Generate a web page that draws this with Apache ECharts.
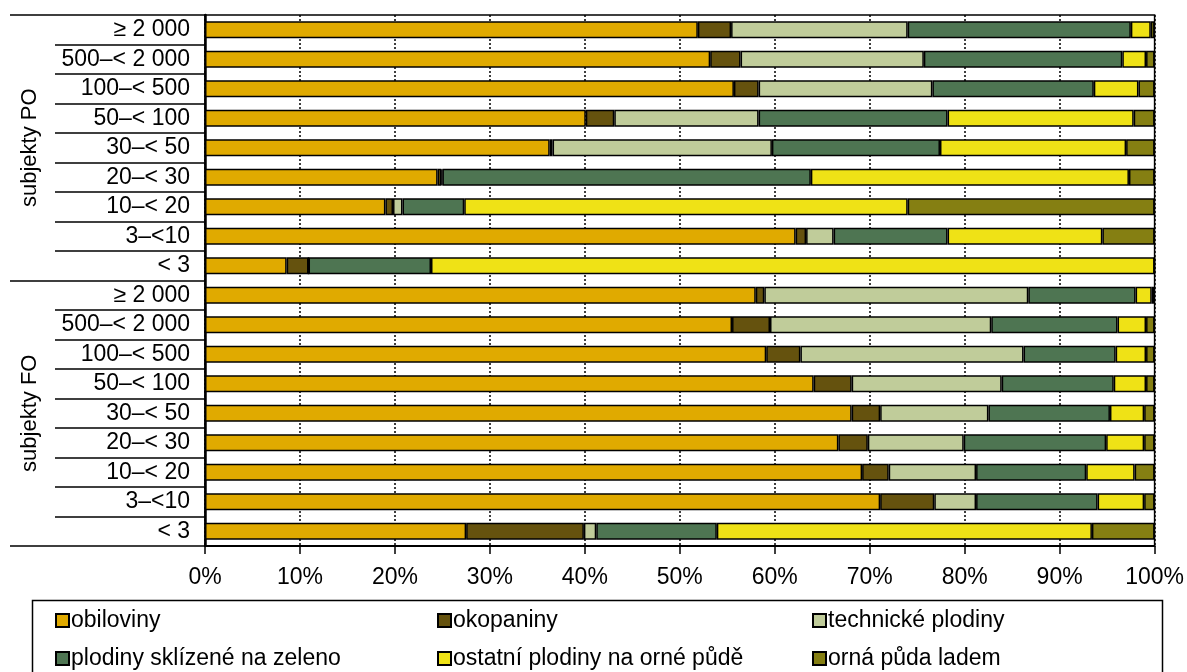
<!DOCTYPE html>
<html>
<head>
<meta charset="utf-8">
<script src="https://cdn.jsdelivr.net/npm/echarts@6/dist/echarts.min.js"></script>
<style>
  html, body { margin: 0; padding: 0; background: #fff; }
  #chart { width: 1187px; height: 672px; }
</style>
</head>
<body>
<div id="chart"></div>
<script>
/* struktura orné půdy podle velikostních skupin — PO a FO */
const groups = ['subjekty PO', 'subjekty FO'];
const sizes = ['≥ 2 000', '500–< 2 000', '100–< 500', '50–< 100', '30–< 50', '20–< 30', '10–< 20', '3–<10', '< 3'];
const rows = [].concat(...groups.map((g) => sizes.map((s) => g + '|' + s)));

const seriesNames = ['obiloviny', 'okopaniny', 'technické plodiny', 'plodiny sklízené na zeleno', 'ostatní plodiny na orné půdě', 'orná půda ladem'];
const colors = ['#e0aa00', '#65520e', '#c0cc9a', '#4e7552', '#efe216', '#857f12'];

// procenta, pořadí řádků: PO ≥2000 … PO <3, FO ≥2000 … FO <3
const obiloviny = [51.9, 53.2, 55.7, 40.1, 36.3, 24.5, 19.0, 62.2, 8.6, 58.0, 55.5, 59.1, 64.1, 68.1, 66.7, 69.2, 71.1, 27.5];
const okopaniny = [3.5, 3.2, 2.6, 3.0, 0.3, 0.4, 0.8, 1.1, 2.3, 0.9, 4.0, 3.6, 4.0, 3.0, 3.1, 2.8, 5.7, 12.4];
const technicke = [18.6, 19.3, 18.3, 15.2, 23.1, 0.1, 1.0, 2.9, 0, 27.8, 23.3, 23.5, 15.8, 11.4, 10.1, 9.2, 4.4, 1.3];
const naZeleno = [23.5, 20.9, 17.0, 19.9, 17.7, 38.8, 6.5, 12.0, 12.9, 11.3, 13.3, 9.7, 11.8, 12.8, 15.0, 11.6, 12.8, 12.7];
const ostatni = [2.1, 2.5, 4.7, 19.6, 19.6, 33.5, 46.7, 16.3, 76.2, 1.7, 3.0, 3.2, 3.4, 3.6, 4.0, 5.1, 4.9, 39.5];
const ladem = [0.4, 0.9, 1.7, 2.2, 3.0, 2.7, 26.0, 5.5, 0, 0.3, 0.9, 0.9, 0.9, 1.1, 1.1, 2.1, 1.1, 6.6];
const values = [obiloviny, okopaniny, technicke, naZeleno, ostatni, ladem];

const xTicks = { min: 0, max: 100, step: 10 };

const FONT = '"Liberation Sans", Arial, sans-serif';
const chart = echarts.init(document.getElementById('chart'), null, { renderer: 'canvas' });

const legendCol = (left, names) => ({
  left, top: 609, orient: 'vertical', padding: 0,
  itemWidth: 13, itemHeight: 13, itemGap: 15,
  icon: 'rect', selectedMode: false,
  data: names,
  textStyle: { fontFamily: FONT, fontSize: 23, color: '#000', padding: [0, 0, 0, -3] }
});

chart.setOption({
  animation: false,
  backgroundColor: '#fff',
  textStyle: { fontFamily: FONT },
  grid: {
    left: 205, right: 32, top: 15, bottom: 126,
    show: true, borderColor: '#000', borderWidth: 1.5, backgroundColor: 'transparent'
  },
  xAxis: {
    type: 'value', min: xTicks.min, max: xTicks.max, interval: xTicks.step,
    axisLine: { show: true, lineStyle: { color: '#000', width: 2 } },
    axisTick: { show: true, length: 8, lineStyle: { color: '#000', width: 1.5 } },
    axisLabel: { formatter: '{value}%', fontFamily: FONT, fontSize: 23, color: '#000', margin: 20 },
    splitLine: { show: true, lineStyle: { color: '#000', width: 1.5, type: [2, 2] } }
  },
  yAxis: [
    {
      type: 'category', data: rows, inverse: true,
      axisLine: { show: true, lineStyle: { color: '#000', width: 2.5 } },
      axisTick: { show: true, length: 150, lineStyle: { color: '#000', width: 1.5 } },
      axisLabel: {
        interval: 0, margin: 15, fontFamily: FONT, fontSize: 23, color: '#000',
        formatter: (v) => v.split('|')[1]
      },
      splitLine: { show: false }
    },
    {
      type: 'category', data: groups, inverse: true, position: 'left',
      axisLine: { show: false },
      axisTick: { show: true, length: 195, lineStyle: { color: '#000', width: 1.5 } },
      axisLabel: {
        rotate: 90, margin: 175, align: 'center', verticalAlign: 'middle',
        fontFamily: FONT, fontSize: 22, color: '#000'
      },
      splitLine: { show: false }
    }
  ],
  legend: [
    legendCol(55, [seriesNames[0], seriesNames[3]]),
    legendCol(437, [seriesNames[1], seriesNames[4]]),
    legendCol(812, [seriesNames[2], seriesNames[5]])
  ],
  graphic: [{
    type: 'rect', left: 30, top: 598, silent: true,
    shape: { width: 1130, height: 90 },
    style: { fill: 'none', stroke: '#000', lineWidth: 1.5 }
  }],
  series: seriesNames.map((name, i) => ({
    name, type: 'bar', stack: 'total', yAxisIndex: 0,
    barWidth: 17,
    data: values[i],
    itemStyle: { color: colors[i], borderColor: '#000', borderWidth: 1.5 },
    emphasis: { disabled: true }
  }))
});
</script>
</body>
</html>
